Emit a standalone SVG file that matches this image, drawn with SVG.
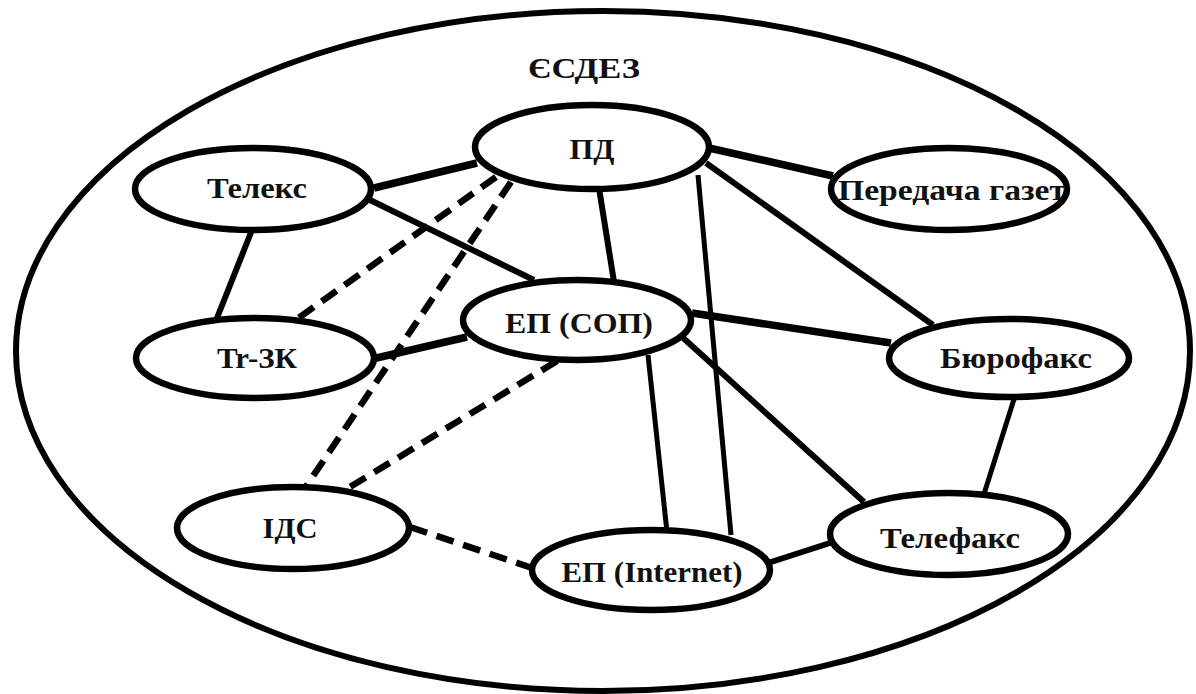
<svg xmlns="http://www.w3.org/2000/svg" width="1196" height="694" viewBox="0 0 1196 694">
<style>
.node ellipse{fill:#fff;stroke:#000;stroke-width:6.5}
.lbl{font-family:"Liberation Serif","Times New Roman",serif;font-weight:bold;font-size:30px;fill:#111;text-anchor:middle}
.c line{stroke:#000;stroke-linecap:butt}
.s{stroke-width:6}
.t{stroke-width:7.5}
.n{stroke-width:5}
.d{stroke-width:6.5;stroke-dasharray:18 10}
</style>
<rect width="1196" height="694" fill="#fff"/>
<g id="outer">
<ellipse cx="603" cy="351" rx="587" ry="340" fill="none" stroke="#000" stroke-width="6"/>
<text class="lbl" x="584" y="78" font-size="26" textLength="112" lengthAdjust="spacingAndGlyphs">ЄСДЕЗ</text>
</g>
<g id="connectors" class="c">
<line class="t" x1="374" y1="188" x2="477" y2="163"/>
<line class="s" x1="370" y1="200" x2="534" y2="280"/>
<line class="s" x1="252" y1="230" x2="217" y2="318"/>
<line class="t" x1="709" y1="148" x2="833" y2="176"/>
<line class="s" x1="599" y1="188" x2="614" y2="282"/>
<line class="n" x1="698" y1="175" x2="731" y2="535"/>
<line class="s" x1="706" y1="163" x2="933" y2="325"/>
<line class="d" x1="496" y1="177" x2="297" y2="319"/>
<line class="d" x1="511" y1="182" x2="305" y2="488"/>
<line class="t" x1="467" y1="337" x2="372" y2="359"/>
<line class="t" x1="692" y1="313" x2="891" y2="343"/>
<line class="d" x1="557" y1="361" x2="345" y2="490"/>
<line class="n" x1="648" y1="355" x2="667" y2="532"/>
<line class="s" x1="681" y1="336" x2="864" y2="502"/>
<line class="n" x1="1015" y1="396" x2="984" y2="494"/>
<line class="s" x1="768" y1="563" x2="833" y2="542"/>
<line class="d" x1="410" y1="527" x2="532" y2="568"/>
</g>
<g id="n-pd" class="node"><ellipse cx="592" cy="147" rx="117" ry="42"/><text class="lbl" x="592" y="159" textLength="45" lengthAdjust="spacingAndGlyphs">ПД</text></g>
<g id="n-telex" class="node"><ellipse cx="253" cy="189" rx="118" ry="41"/><text class="lbl" x="257" y="198" textLength="100" lengthAdjust="spacingAndGlyphs">Телекс</text></g>
<g id="n-gazet" class="node"><ellipse cx="949" cy="189" rx="118" ry="41"/><text class="lbl" x="952" y="200" textLength="228" lengthAdjust="spacingAndGlyphs">Передача газет</text></g>
<g id="n-ep-sop" class="node"><ellipse cx="577" cy="320" rx="114" ry="40"/><text class="lbl" x="579" y="333" textLength="148" lengthAdjust="spacingAndGlyphs">ЕП (СОП)</text></g>
<g id="n-tr3k" class="node"><ellipse cx="255" cy="358" rx="119" ry="40"/><text class="lbl" x="257" y="368" textLength="80" lengthAdjust="spacingAndGlyphs">Tr-ЗК</text></g>
<g id="n-buro" class="node"><ellipse cx="1009" cy="358" rx="120" ry="39"/><text class="lbl" x="1016" y="368" textLength="152" lengthAdjust="spacingAndGlyphs">Бюрофакс</text></g>
<g id="n-ids" class="node"><ellipse cx="293" cy="528" rx="116" ry="41"/><text class="lbl" x="290" y="538" textLength="55" lengthAdjust="spacingAndGlyphs">ІДС</text></g>
<g id="n-ep-int" class="node"><ellipse cx="651" cy="570" rx="119" ry="40"/><text class="lbl" x="652" y="582" textLength="181" lengthAdjust="spacingAndGlyphs">ЕП (Internet)</text></g>
<g id="n-telefax" class="node"><ellipse cx="949" cy="534" rx="119" ry="41"/><text class="lbl" x="950" y="548" textLength="140" lengthAdjust="spacingAndGlyphs">Телефакс</text></g>
</svg>
